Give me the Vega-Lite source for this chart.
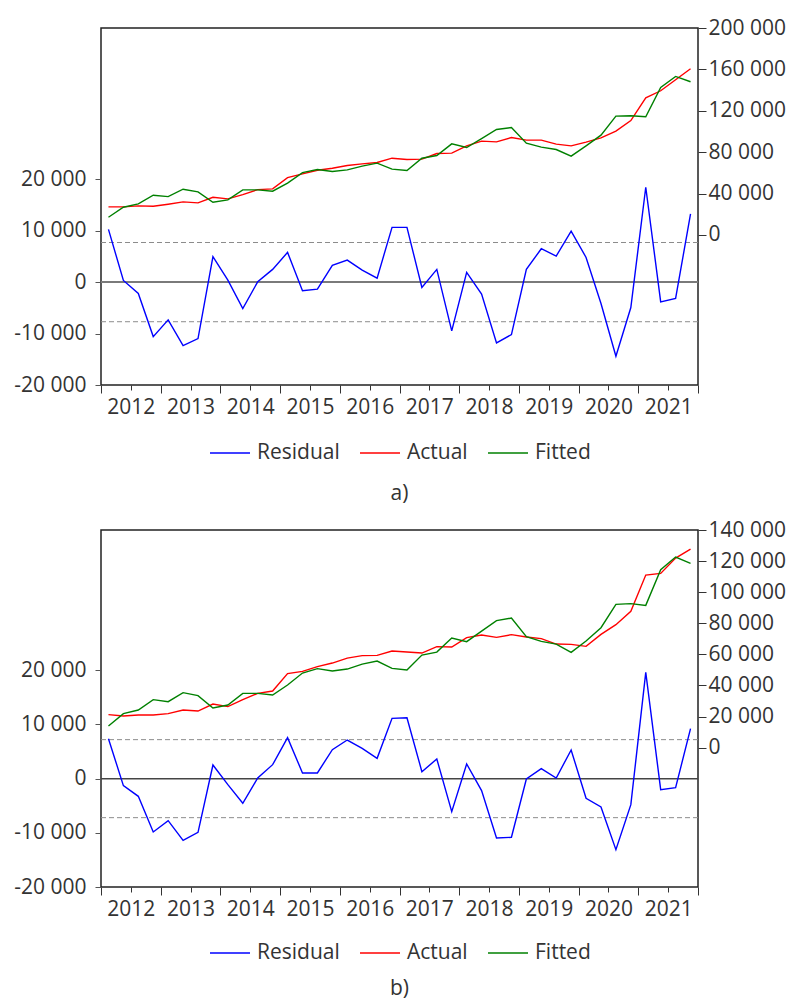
{
  "$schema": "https://vega.github.io/schema/vega-lite/v6.json",
  "background": "white",
  "padding": {"left": 13, "top": 16, "right": 2, "bottom": 0},
  "spacing": 13,
  "config": {
    "font": "Open Sans",
    "view": {"stroke": "#222", "strokeWidth": 1.5},
    "axis": {"labelFont": "Open Sans", "labelFontSize": 21, "labelColor": "#333", "grid": false, "domain": false, "tickColor": "#555", "title": null},
    "axisX": {"values": [2012, 2012.25, 2012.5, 2012.75, 2013, 2013.25, 2013.5, 2013.75, 2014, 2014.25, 2014.5, 2014.75, 2015, 2015.25, 2015.5, 2015.75, 2016, 2016.25, 2016.5, 2016.75, 2017, 2017.25, 2017.5, 2017.75, 2018, 2018.25, 2018.5, 2018.75, 2019, 2019.25, 2019.5, 2019.75, 2020, 2020.25, 2020.5, 2020.75, 2021, 2021.25, 2021.5, 2021.75, 2022],
      "labelExpr": "datum.value % 1 == 0.5 ? toString(floor(datum.value)) : ''", "labelOverlap": false, "labelFlush": false, "labelBound": false, "labelPadding": 6,
      "tickColor": "#333",
      "tickSize": {"condition": {"test": "datum.value % 1 == 0", "value": 8}, "value": 5}},
    "legend": {"layout": {"bottom": {"anchor": "middle"}}, "labelFont": "Open Sans", "labelFontSize": 21, "labelColor": "#333"},
    "title": {"font": "Open Sans", "fontSize": 21, "fontWeight": "normal", "color": "#333"}
  },
  "resolve": {"scale": {"color": "independent"}},
  "datasets": {
    "a": [
      {"t": 2012.125, "Residual": 10260, "Actual": 27100, "Fitted": 17130},
      {"t": 2012.375, "Residual": 320, "Actual": 27100, "Fitted": 26800},
      {"t": 2012.625, "Residual": -2210, "Actual": 28060, "Fitted": 30000},
      {"t": 2012.875, "Residual": -10590, "Actual": 27770, "Fitted": 38400},
      {"t": 2013.125, "Residual": -7340, "Actual": 29700, "Fitted": 37070},
      {"t": 2013.375, "Residual": -12340, "Actual": 31930, "Fitted": 44220},
      {"t": 2013.625, "Residual": -10980, "Actual": 30970, "Fitted": 41610},
      {"t": 2013.875, "Residual": 4940, "Actual": 36450, "Fitted": 31640},
      {"t": 2014.125, "Residual": 390, "Actual": 34840, "Fitted": 33870},
      {"t": 2014.375, "Residual": -5130, "Actual": 39000, "Fitted": 43550},
      {"t": 2014.625, "Residual": 65, "Actual": 43840, "Fitted": 43550},
      {"t": 2014.875, "Residual": 2470, "Actual": 44510, "Fitted": 42290},
      {"t": 2015.125, "Residual": 5780, "Actual": 55450, "Fitted": 50030},
      {"t": 2015.375, "Residual": -1690, "Actual": 59030, "Fitted": 60290},
      {"t": 2015.625, "Residual": -1360, "Actual": 62570, "Fitted": 63190},
      {"t": 2015.875, "Residual": 3250, "Actual": 64510, "Fitted": 61260},
      {"t": 2016.125, "Residual": 4290, "Actual": 67090, "Fitted": 62900},
      {"t": 2016.375, "Residual": 2340, "Actual": 68700, "Fitted": 66480},
      {"t": 2016.625, "Residual": 780, "Actual": 69990, "Fitted": 69380},
      {"t": 2016.875, "Residual": 10650, "Actual": 74190, "Fitted": 63580},
      {"t": 2017.125, "Residual": 10650, "Actual": 72900, "Fitted": 62230},
      {"t": 2017.375, "Residual": -1040, "Actual": 73240, "Fitted": 74190},
      {"t": 2017.625, "Residual": 2470, "Actual": 78700, "Fitted": 76770},
      {"t": 2017.875, "Residual": -9480, "Actual": 79030, "Fitted": 88060},
      {"t": 2018.125, "Residual": 1880, "Actual": 86130, "Fitted": 84540},
      {"t": 2018.375, "Residual": -2340, "Actual": 90650, "Fitted": 93190},
      {"t": 2018.625, "Residual": -11820, "Actual": 90000, "Fitted": 101900},
      {"t": 2018.875, "Residual": -10200, "Actual": 94200, "Fitted": 103840},
      {"t": 2019.125, "Residual": 2470, "Actual": 91620, "Fitted": 88710},
      {"t": 2019.375, "Residual": 6490, "Actual": 91620, "Fitted": 84840},
      {"t": 2019.625, "Residual": 5060, "Actual": 87740, "Fitted": 82580},
      {"t": 2019.875, "Residual": 9930, "Actual": 86130, "Fitted": 76120},
      {"t": 2020.125, "Residual": 4800, "Actual": 89680, "Fitted": 86130},
      {"t": 2020.375, "Residual": -4160, "Actual": 93870, "Fitted": 96450},
      {"t": 2020.625, "Residual": -14420, "Actual": 100300, "Fitted": 114850},
      {"t": 2020.875, "Residual": -4940, "Actual": 110600, "Fitted": 115160},
      {"t": 2021.125, "Residual": 18440, "Actual": 132600, "Fitted": 114190},
      {"t": 2021.375, "Residual": -3830, "Actual": 139350, "Fitted": 142550},
      {"t": 2021.625, "Residual": -3180, "Actual": 150000, "Fitted": 153190},
      {"t": 2021.875, "Residual": 13250, "Actual": 160640, "Fitted": 148060}
    ],
    "b": [
      {"t": 2012.125, "Residual": 7380, "Actual": 21220, "Fitted": 13890},
      {"t": 2012.375, "Residual": -1290, "Actual": 20370, "Fitted": 21870},
      {"t": 2012.625, "Residual": -3260, "Actual": 20960, "Fitted": 24180},
      {"t": 2012.875, "Residual": -9840, "Actual": 20960, "Fitted": 30870},
      {"t": 2013.125, "Residual": -7750, "Actual": 21870, "Fitted": 29580},
      {"t": 2013.375, "Residual": -11380, "Actual": 24180, "Fitted": 35370},
      {"t": 2013.625, "Residual": -9900, "Actual": 23540, "Fitted": 33440},
      {"t": 2013.875, "Residual": 2520, "Actual": 28040, "Fitted": 25470},
      {"t": 2014.125, "Residual": -1110, "Actual": 26370, "Fitted": 27400},
      {"t": 2014.375, "Residual": -4550, "Actual": 30870, "Fitted": 34920},
      {"t": 2014.625, "Residual": 120, "Actual": 34920, "Fitted": 34920},
      {"t": 2014.875, "Residual": 2580, "Actual": 36420, "Fitted": 33830},
      {"t": 2015.125, "Residual": 7560, "Actual": 47590, "Fitted": 40260},
      {"t": 2015.375, "Residual": 1050, "Actual": 49070, "Fitted": 47980},
      {"t": 2015.625, "Residual": 1050, "Actual": 52090, "Fitted": 50800},
      {"t": 2015.875, "Residual": 5350, "Actual": 54410, "Fitted": 49260},
      {"t": 2016.125, "Residual": 7130, "Actual": 57620, "Fitted": 50550},
      {"t": 2016.375, "Residual": 5600, "Actual": 59170, "Fitted": 53760},
      {"t": 2016.625, "Residual": 3750, "Actual": 59380, "Fitted": 55690},
      {"t": 2016.875, "Residual": 11130, "Actual": 62130, "Fitted": 51000},
      {"t": 2017.125, "Residual": 11250, "Actual": 61480, "Fitted": 49900},
      {"t": 2017.375, "Residual": 1290, "Actual": 60840, "Fitted": 59550},
      {"t": 2017.625, "Residual": 3630, "Actual": 64950, "Fitted": 61480},
      {"t": 2017.875, "Residual": -6090, "Actual": 64700, "Fitted": 70480},
      {"t": 2018.125, "Residual": 2710, "Actual": 70740, "Fitted": 68170},
      {"t": 2018.375, "Residual": -2210, "Actual": 72410, "Fitted": 74980},
      {"t": 2018.625, "Residual": -10950, "Actual": 70930, "Fitted": 81670},
      {"t": 2018.875, "Residual": -10820, "Actual": 72670, "Fitted": 83340},
      {"t": 2019.125, "Residual": -60, "Actual": 71130, "Fitted": 71380},
      {"t": 2019.375, "Residual": 1850, "Actual": 70100, "Fitted": 68360},
      {"t": 2019.625, "Residual": 120, "Actual": 66620, "Fitted": 66620},
      {"t": 2019.875, "Residual": 5290, "Actual": 66430, "Fitted": 61290},
      {"t": 2020.125, "Residual": -3630, "Actual": 65150, "Fitted": 68550},
      {"t": 2020.375, "Residual": -5230, "Actual": 72860, "Fitted": 77170},
      {"t": 2020.625, "Residual": -13100, "Actual": 79100, "Fitted": 92160},
      {"t": 2020.875, "Residual": -4800, "Actual": 87650, "Fitted": 92610},
      {"t": 2021.125, "Residual": 19620, "Actual": 111000, "Fitted": 91510},
      {"t": 2021.375, "Residual": -2030, "Actual": 112090, "Fitted": 114470},
      {"t": 2021.625, "Residual": -1660, "Actual": 121930, "Fitted": 122580},
      {"t": 2021.875, "Residual": 9230, "Actual": 127720, "Fitted": 118520}
    ]
  },
  "vconcat": [
    {
      "width": 597,
      "height": 357,
      "data": {"name": "a"},
      "title": {"text": "a)", "orient": "bottom", "anchor": "middle", "offset": 20},
      "layer": [
        {
          "layer": [
            {
              "data": {"values": [{"v": 0}]},
              "mark": {"type": "rule", "color": "#7a7a7a", "strokeWidth": 2},
              "encoding": {
                "y": {"field": "v", "type": "quantitative", "scale": {"domain": [-20000, 49400], "nice": false, "zero": false},
                  "axis": {"orient": "left", "values": [-20000, -10000, 0, 10000, 20000], "tickSize": 6, "labelPadding": 9, "labelExpr": "(datum.value < 0 ? '-' : '') + replace(format(abs(datum.value), ','), ',', ' ')"}}
              }
            },
            {
              "data": {"values": [{"v": 7700}, {"v": -7700}]},
              "mark": {"type": "rule", "color": "#8c8c8c", "strokeWidth": 1, "strokeDash": [5, 3]},
              "encoding": {
                "y": {"field": "v", "type": "quantitative", "scale": {"domain": [-20000, 49400], "nice": false, "zero": false},
                  "axis": {"orient": "left", "values": [-20000, -10000, 0, 10000, 20000], "tickSize": 6, "labelPadding": 9, "labelExpr": "(datum.value < 0 ? '-' : '') + replace(format(abs(datum.value), ','), ',', ' ')"}}
              }
            },
            {
              "transform": [{"fold": ["Residual"], "as": ["series", "value"]}],
              "mark": {"type": "line", "strokeWidth": 1.4},
              "encoding": {
                "x": {"field": "t", "type": "quantitative", "scale": {"domain": [2012, 2022], "nice": false, "zero": false}},
                "y": {"field": "value", "type": "quantitative", "scale": {"domain": [-20000, 49400], "nice": false, "zero": false},
                  "axis": {"orient": "left", "values": [-20000, -10000, 0, 10000, 20000], "tickSize": 6, "labelPadding": 9, "labelExpr": "(datum.value < 0 ? '-' : '') + replace(format(abs(datum.value), ','), ',', ' ')"}},
                "color": {"field": "series", "type": "nominal", "scale": {"domain": ["Residual", "Actual", "Fitted"], "range": ["#0000ff", "#ff0000", "#008000"]},
                  "legend": {"title": null, "orient": "bottom", "direction": "horizontal", "symbolType": "stroke", "symbolSize": 1600, "symbolStrokeWidth": 1.4, "labelOffset": 6, "columnPadding": 17, "offset": 12}}
              }
            }
          ]
        },
        {
          "transform": [{"fold": ["Actual", "Fitted"], "as": ["series", "value"]}],
          "mark": {"type": "line", "strokeWidth": 1.4},
          "encoding": {
            "x": {"field": "t", "type": "quantitative", "scale": {"domain": [2012, 2022], "nice": false, "zero": false}},
            "y": {"field": "value", "type": "quantitative", "scale": {"domain": [-145000, 200000], "nice": false, "zero": false},
              "axis": {"orient": "right", "values": [0, 40000, 80000, 120000, 160000, 200000], "tickSize": 8, "tickColor": "#333", "labelPadding": 2, "labelExpr": "replace(format(datum.value, ','), ',', ' ')"}},
            "color": {"field": "series", "type": "nominal", "scale": {"domain": ["Residual", "Actual", "Fitted"], "range": ["#0000ff", "#ff0000", "#008000"]},
              "legend": {"title": null, "orient": "bottom", "direction": "horizontal", "symbolType": "stroke", "symbolSize": 1600, "symbolStrokeWidth": 1.4, "labelOffset": 6, "columnPadding": 17, "offset": 12}}
          }
        }
      ],
      "resolve": {"scale": {"y": "independent"}}
    },
    {
      "width": 597,
      "height": 357,
      "data": {"name": "b"},
      "title": {"text": "b)", "orient": "bottom", "anchor": "middle", "offset": 15},
      "layer": [
        {
          "layer": [
            {
              "data": {"values": [{"v": 0}]},
              "mark": {"type": "rule", "color": "#444444", "strokeWidth": 1.5},
              "encoding": {
                "y": {"field": "v", "type": "quantitative", "scale": {"domain": [-20000, 45900], "nice": false, "zero": false},
                  "axis": {"orient": "left", "values": [-20000, -10000, 0, 10000, 20000], "tickSize": 6, "labelPadding": 9, "labelExpr": "(datum.value < 0 ? '-' : '') + replace(format(abs(datum.value), ','), ',', ' ')"}}
              }
            },
            {
              "data": {"values": [{"v": 7200}, {"v": -7200}]},
              "mark": {"type": "rule", "color": "#8c8c8c", "strokeWidth": 1, "strokeDash": [5, 3]},
              "encoding": {
                "y": {"field": "v", "type": "quantitative", "scale": {"domain": [-20000, 45900], "nice": false, "zero": false},
                  "axis": {"orient": "left", "values": [-20000, -10000, 0, 10000, 20000], "tickSize": 6, "labelPadding": 9, "labelExpr": "(datum.value < 0 ? '-' : '') + replace(format(abs(datum.value), ','), ',', ' ')"}}
              }
            },
            {
              "transform": [{"fold": ["Residual"], "as": ["series", "value"]}],
              "mark": {"type": "line", "strokeWidth": 1.4},
              "encoding": {
                "x": {"field": "t", "type": "quantitative", "scale": {"domain": [2012, 2022], "nice": false, "zero": false}},
                "y": {"field": "value", "type": "quantitative", "scale": {"domain": [-20000, 45900], "nice": false, "zero": false},
                  "axis": {"orient": "left", "values": [-20000, -10000, 0, 10000, 20000], "tickSize": 6, "labelPadding": 9, "labelExpr": "(datum.value < 0 ? '-' : '') + replace(format(abs(datum.value), ','), ',', ' ')"}},
                "color": {"field": "series", "type": "nominal", "scale": {"domain": ["Residual", "Actual", "Fitted"], "range": ["#0000ff", "#ff0000", "#008000"]},
                  "legend": {"title": null, "orient": "bottom", "direction": "horizontal", "symbolType": "stroke", "symbolSize": 1600, "symbolStrokeWidth": 1.4, "labelOffset": 6, "columnPadding": 17, "offset": 10}}
              }
            }
          ]
        },
        {
          "transform": [{"fold": ["Actual", "Fitted"], "as": ["series", "value"]}],
          "mark": {"type": "line", "strokeWidth": 1.4},
          "encoding": {
            "x": {"field": "t", "type": "quantitative", "scale": {"domain": [2012, 2022], "nice": false, "zero": false}},
            "y": {"field": "value", "type": "quantitative", "scale": {"domain": [-89650, 140000], "nice": false, "zero": false},
              "axis": {"orient": "right", "values": [0, 20000, 40000, 60000, 80000, 100000, 120000, 140000], "tickSize": 8, "tickColor": "#333", "labelPadding": 2, "labelExpr": "replace(format(datum.value, ','), ',', ' ')"}},
            "color": {"field": "series", "type": "nominal", "scale": {"domain": ["Residual", "Actual", "Fitted"], "range": ["#0000ff", "#ff0000", "#008000"]},
              "legend": {"title": null, "orient": "bottom", "direction": "horizontal", "symbolType": "stroke", "symbolSize": 1600, "symbolStrokeWidth": 1.4, "labelOffset": 6, "columnPadding": 17, "offset": 10}}
          }
        }
      ],
      "resolve": {"scale": {"y": "independent"}}
    }
  ]
}
